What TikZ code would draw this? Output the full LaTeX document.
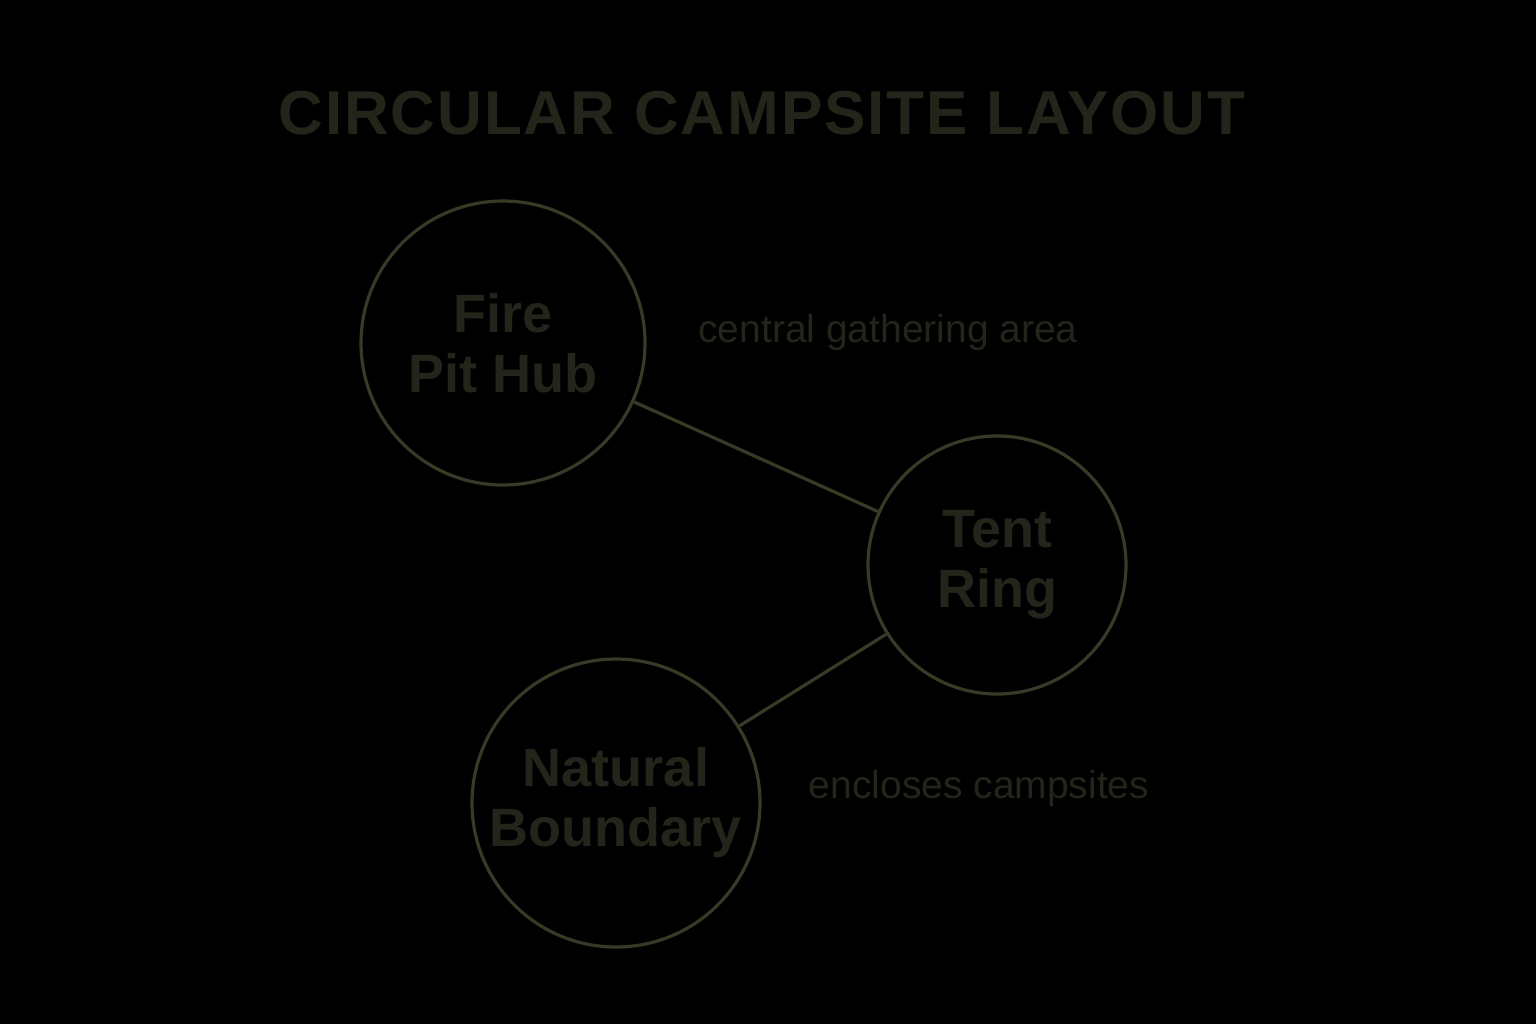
\documentclass[tikz,border=0pt]{standalone}
\usepackage{fontspec}
\setmainfont{Liberation Sans}
\definecolor{ln}{HTML}{3A3826}
\definecolor{tx}{HTML}{24241A}
\begin{document}
\begin{tikzpicture}[x=0.5pt,y=-0.5pt,
  zone/.style={circle,draw=ln,line width=1.6pt,inner sep=0pt,text=tx,font=\bfseries\fontsize{27}{30}\selectfont,align=center},
  link/.style={draw=ln,line width=1.6pt},
  note/.style={text=tx,font=\fontsize{19.5}{20}\selectfont}]
\fill[black] (0,0) rectangle (1536,1024);
\node[text=tx,font=\bfseries\fontsize{31}{32}\selectfont\addfontfeature{LetterSpace=3}] (title) at (762,113) {CIRCULAR CAMPSITE LAYOUT};
\node[zone,minimum size=142pt] (fire) at (503,343) {Fire\\Pit Hub};
\node[zone,minimum size=129pt] (tent) at (997,565) {Tent\\Ring};
\node[zone,minimum size=144pt] (nat) at (616,803) {Natural\\Boundary};
\draw[link] (fire) -- (tent);
\draw[link] (tent) -- (nat);
\node[note] (n1) at (888,332) {central gathering area};
\node[note] (n2) at (979,788) {encloses campsites};
\end{tikzpicture}
\end{document}
